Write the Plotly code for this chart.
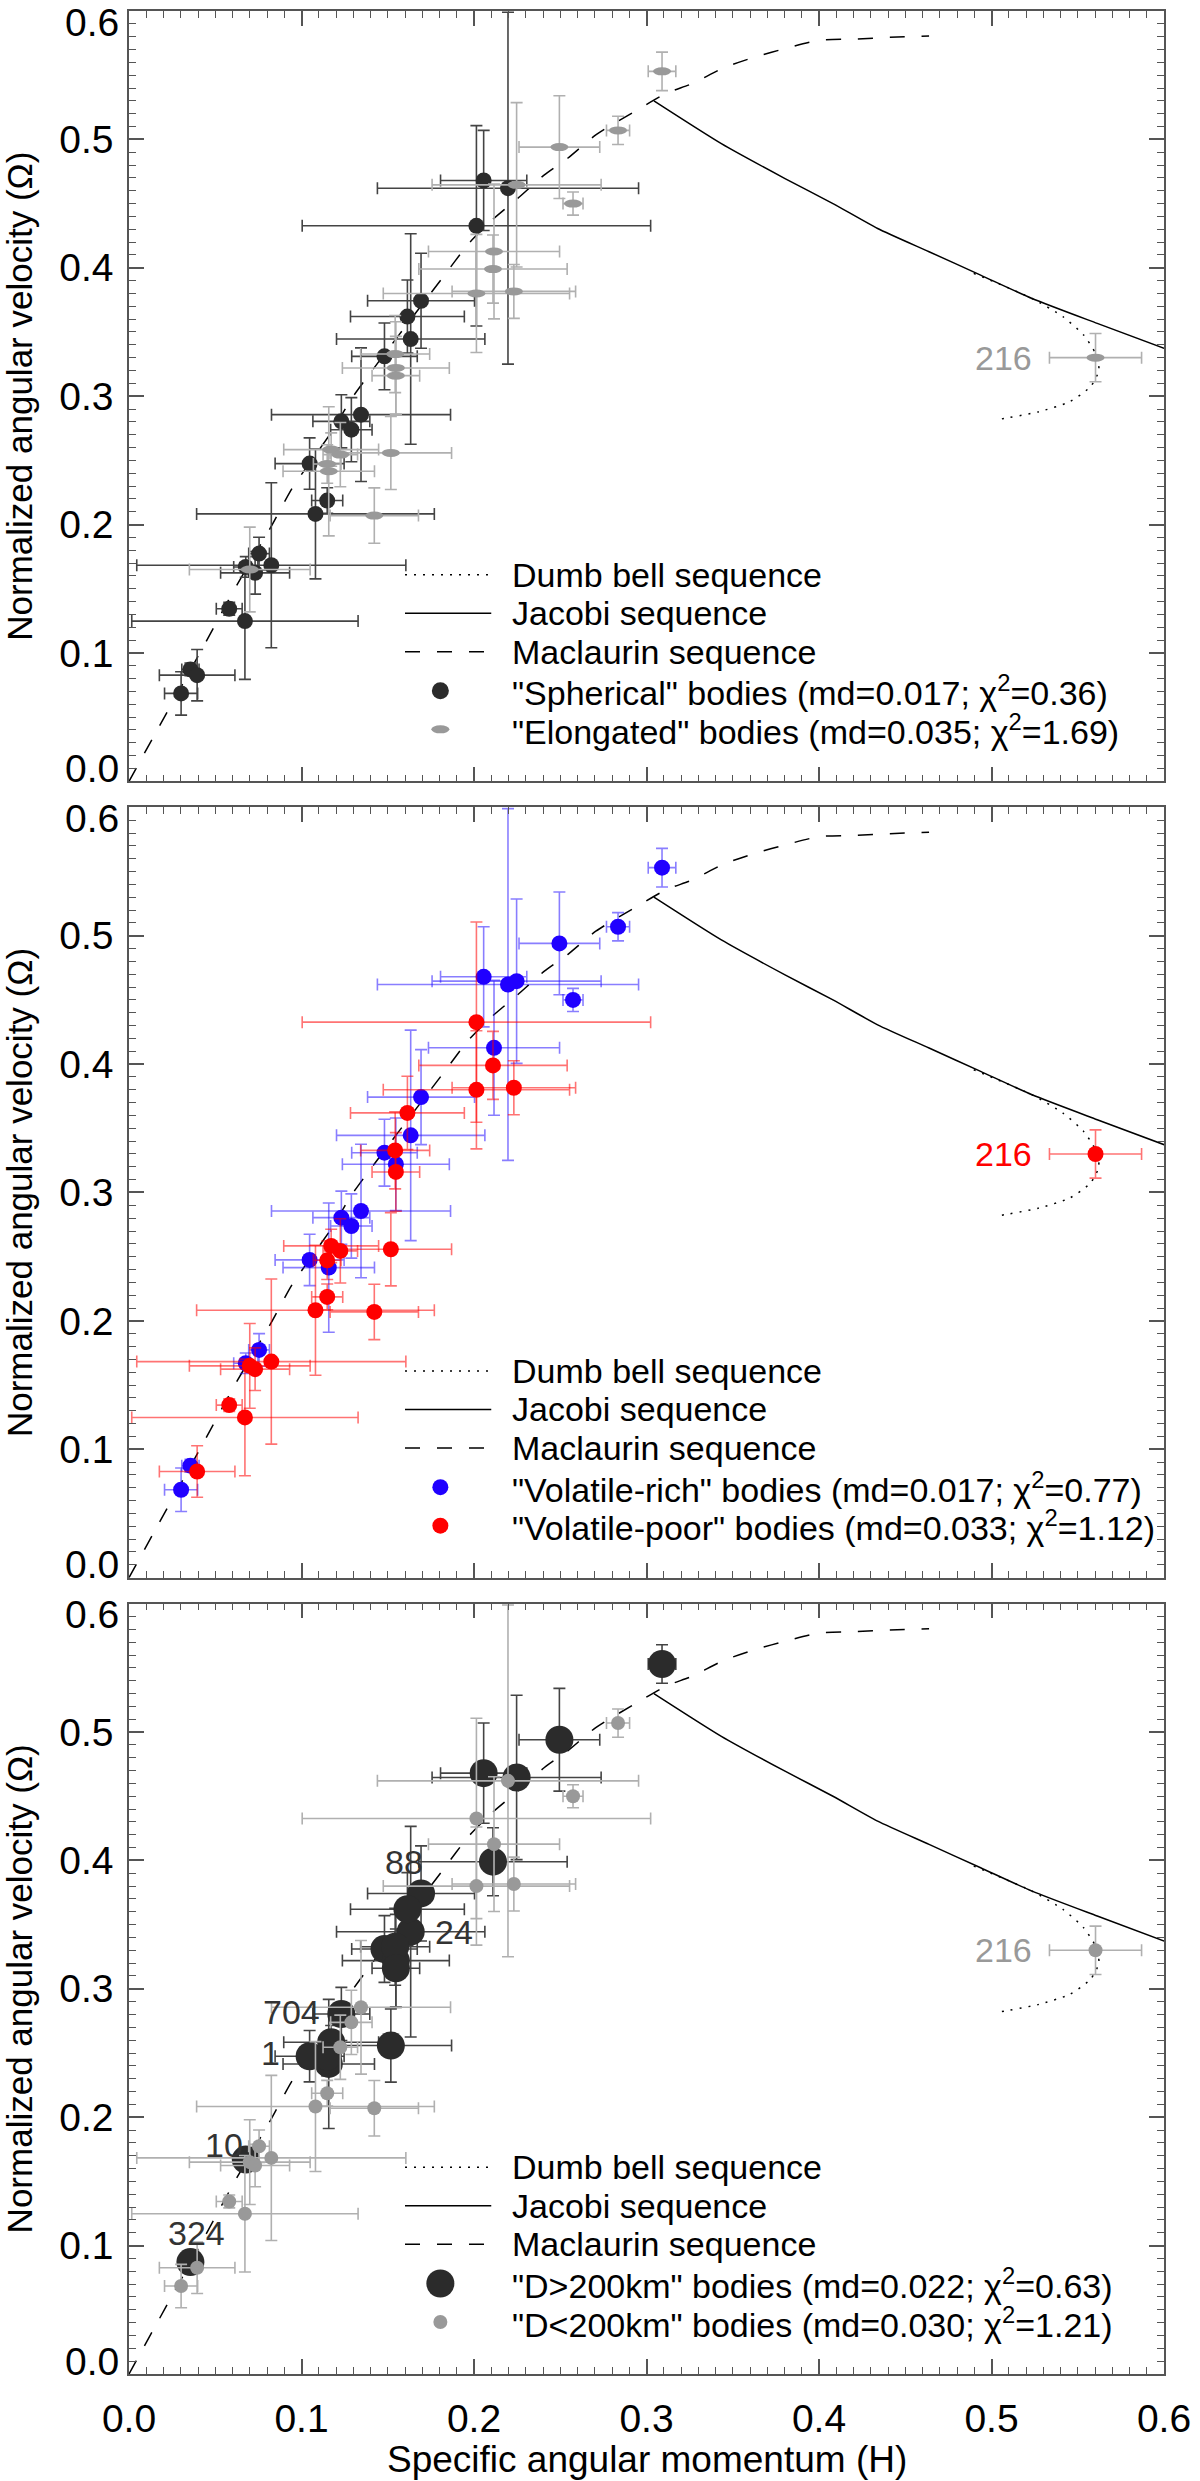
#### three-panel plot: normalized angular velocity vs specific angular momentum

import plotly.graph_objects as go
from plotly.subplots import make_subplots

# ---- data ---------------------------------------------------------------
# one entry per body (same bodies in all three panels)
body_h = [0.309, 0.2835, 0.2495, 0.2574, 0.2056, 0.2197, 0.2247, 0.2116, 0.1693, 0.1633,
          0.1481, 0.1547, 0.2014, 0.211, 0.2014, 0.2231, 0.1614, 0.1543, 0.1547, 0.1345,
          0.1231, 0.1289, 0.1047, 0.1158, 0.1518, 0.1172, 0.1225, 0.1149, 0.1149, 0.1081,
          0.1422, 0.0754, 0.0677, 0.070, 0.0731, 0.0825, 0.0581, 0.0672, 0.0356, 0.0395,
          0.0302, 0.5603]
body_omega = [0.553, 0.507, 0.494, 0.450, 0.468, 0.462, 0.4646, 0.4127, 0.3743, 0.3445,
              0.331, 0.322, 0.4327, 0.399, 0.380, 0.3816, 0.362, 0.3328, 0.316, 0.2856,
              0.2804, 0.2739, 0.2475, 0.2415, 0.2558, 0.2584, 0.2545, 0.2472, 0.2187, 0.2083,
              0.207, 0.1774, 0.167, 0.165, 0.1624, 0.1683, 0.1344, 0.1248, 0.0872, 0.0827,
              0.0685, 0.330]
body_h_err = [0.008, 0.0067, 0.0234, 0.0058, 0.025, 0.0757, 0.049, 0.038, 0.031, 0.043,
              0.019, 0.031, 0.101, 0.043, 0.054, 0.0358, 0.033, 0.02, 0.0138, 0.0519,
              0.0165, 0.012, 0.02, 0.0265, 0.0352, 0.0275, 0.01, 0.008, 0.009, 0.0689,
              0.0256, 0.006, 0.007, 0.035, 0.02, 0.078, 0.0075, 0.0656, 0.005, 0.0219,
              0.0096, 0.0267]
body_omega_err = [0.015, 0.011, 0.040, 0.009, 0.039, 0.137, 0.064, 0.0525, 0.037, 0.082,
                  0.026, 0.036, 0.078, 0.0265, 0.046, 0.021, 0.0285, 0.03, 0.0306, 0.052,
                  0.0207, 0.025, 0.02, 0.0503, 0.0285, 0.013, 0.025, 0.015, 0.01, 0.0506,
                  0.0216, 0.0127, 0.008, 0.033, 0.0166, 0.0643, 0.005, 0.0454, 0.005, 0.02,
                  0.0169, 0.0188]

# classification used in each panel
shape_class = ['E', 'E', 'E', 'E', 'S', 'S', 'E', 'E', 'S', 'S',
               'S', 'E', 'S', 'E', 'E', 'E', 'S', 'E', 'E', 'S',
               'S', 'S', 'S', 'E', 'E', 'E', 'E', 'E', 'S', 'S',
               'E', 'S', 'S', 'E', 'S', 'S', 'S', 'S', 'S', 'S',
               'S', 'E']
volatile_class = ['rich'] * 12 + ['poor'] * 7 + ['rich'] * 5 + ['poor'] * 7 + \
                 ['rich', 'rich', 'poor', 'poor', 'poor', 'poor', 'poor', 'rich', 'poor', 'rich', 'poor']
size_class = ['big', 'small', 'big', 'small', 'big', 'small', 'big', 'small', 'big', 'big',
              'big', 'big', 'small', 'big', 'small', 'small', 'big', 'big', 'big', 'small',
              'big', 'small', 'big', 'big', 'big', 'big', 'small', 'big', 'small', 'small',
              'small', 'small', 'big', 'small', 'small', 'small', 'small', 'small', 'big', 'small',
              'small', 'small']

# named bodies (index into the lists above)
label_text = ['88', '24', '704', '1', '10', '324', '216']
label_body = [8, 9, 20, 22, 32, 38, 41]

# theoretical sequences
maclaurin_h = [0.0, 0.0139, 0.0427, 0.0616, 0.0822, 0.0947, 0.1177, 0.1293, 0.1831, 0.1966,
               0.21, 0.2255, 0.2408, 0.2543, 0.2706, 0.2947, 0.3116, 0.3265, 0.3444, 0.3629,
               0.3822, 0.40, 0.4215, 0.4409, 0.4638]
maclaurin_omega = [0.0, 0.034, 0.104, 0.1507, 0.198, 0.2286, 0.2726, 0.2986, 0.3946, 0.4184,
                   0.4366, 0.4542, 0.4724, 0.4853, 0.5035, 0.523, 0.536, 0.5434, 0.5556, 0.5642,
                   0.5714, 0.5772, 0.5782, 0.5795, 0.5805]
jacobi_h = [0.3043, 0.3434, 0.3803, 0.4081, 0.4340, 0.4638, 0.4937, 0.5235, 0.5613, 0.6001]
jacobi_omega = [0.530, 0.4967, 0.4695, 0.45, 0.4306, 0.4125, 0.3943, 0.3761, 0.3567, 0.3372]
dumbbell_h = [0.4897, 0.5235, 0.5414, 0.5534, 0.5603, 0.5623, 0.5574, 0.5454, 0.5275, 0.5026]
dumbbell_omega = [0.3956, 0.3761, 0.3619, 0.3476, 0.3333, 0.3204, 0.3074, 0.2957, 0.2879, 0.2815]

legend_texts = [
    ['"Spherical" bodies (md=0.017; χ<sup>2</sup>=0.36)',
     '"Elongated" bodies (md=0.035; χ<sup>2</sup>=1.69)'],
    ['"Volatile-rich" bodies (md=0.017; χ<sup>2</sup>=0.77)',
     '"Volatile-poor" bodies (md=0.033; χ<sup>2</sup>=1.12)'],
    ['"D&gt;200km" bodies (md=0.022; χ<sup>2</sup>=0.63)',
     '"D&lt;200km" bodies (md=0.030; χ<sup>2</sup>=1.21)'],
]
curve_names = ['Dumb bell sequence', 'Jacobi sequence', 'Maclaurin sequence']

# ---- styles ---------------------------------------------------------------
FONT = 'Liberation Sans, Arial, sans-serif'
FS_TICK = 39
FS_LEG = 34
FS_YT = 35
FS_XT = 37
FS_LAB = 34
DARK = '#2b2b2b'
DARK_ERR = '#444444'
GREY = '#999999'
GREY_ERR = '#b0b0b0'
BLUE = '#2000ff'
BLUE_ERR = 'rgba(40,20,255,0.55)'
RED = '#ff0000'
RED_ERR = 'rgba(255,0,0,0.55)'
AXIS = '#555555'
leg_rows = [0.161, 0.131, 0.101, 0.0705, 0.0405]   # legend row heights (data units)
leg_line = [0.160, 0.210]
leg_mark = 0.1805
leg_text_x = 0.221
label_shift = [(4, 31, 'right'), (22, 0, 'left'), (-19, 2, 'right'), (-28, 3, 'right'),
               (-1, 15, 'right'), (37, 29, 'right'), (-62, 0, 'right')]

fig = make_subplots(rows=3, cols=1, vertical_spacing=26 / 2365)


def subset(flags, value):
    idx = [i for i, f in enumerate(flags) if f == value]
    return ([body_h[i] for i in idx], [body_omega[i] for i in idx],
            [body_h_err[i] for i in idx], [body_omega_err[i] for i in idx])


def add_points(row, flags, value, color, err_color, size, opacity=1.0):
    x, y, ex, ey = subset(flags, value)
    fig.add_trace(go.Scatter(
        x=x, y=y, mode='markers', showlegend=False,
        marker=dict(color=color, size=size, opacity=opacity, line=dict(width=0)),
        error_x=dict(type='data', array=ex, color=err_color, thickness=1.6, width=6),
        error_y=dict(type='data', array=ey, color=err_color, thickness=1.6, width=6),
    ), row=row, col=1)
    return x, y


for row in (1, 2, 3):
    # theoretical curves
    fig.add_trace(go.Scatter(x=maclaurin_h, y=maclaurin_omega, mode='lines', showlegend=False,
                             line=dict(color='black', width=1.5, dash='15px,17px', shape='spline',
                                       smoothing=0.6)), row=row, col=1)
    fig.add_trace(go.Scatter(x=jacobi_h, y=jacobi_omega, mode='lines', showlegend=False,
                             line=dict(color='black', width=1.5, shape='spline', smoothing=0.6)),
                  row=row, col=1)
    fig.add_trace(go.Scatter(x=dumbbell_h, y=dumbbell_omega, mode='lines', showlegend=False,
                             line=dict(color='black', width=1.5, dash='2px,7px', shape='spline',
                                       smoothing=0.6)), row=row, col=1)

# panel 1: spherical / elongated
add_points(1, shape_class, 'S', DARK, DARK_ERR, 16)
ex_x, ex_y = add_points(1, shape_class, 'E', GREY, GREY_ERR, 4, opacity=0)
for h, w in zip(ex_x, ex_y):
    fig.add_shape(type='circle', xref='x', yref='y', xsizemode='pixel', ysizemode='pixel',
                  xanchor=h, yanchor=w, x0=-9, x1=9, y0=-4, y1=4,
                  fillcolor=GREY, line=dict(width=0), layer='above')

# panel 2: volatile-rich / volatile-poor
add_points(2, volatile_class, 'rich', BLUE, BLUE_ERR, 16)
add_points(2, volatile_class, 'poor', RED, RED_ERR, 16)

# panel 3: large / small bodies
add_points(3, size_class, 'big', DARK, DARK_ERR, 28)
add_points(3, size_class, 'small', GREY, GREY_ERR, 14)

# ---- legends (drawn inside each panel) -------------------------------------
dash_css = ['2px,7px', 'solid', '15px,17px']
marker_styles = [
    [(DARK, 8.5, 8.5), (GREY, 9, 4)],
    [(BLUE, 8, 8), (RED, 8, 8)],
    [(DARK, 14, 14), (GREY, 7, 7)],
]
for p in range(3):
    xr = 'x' if p == 0 else 'x%d' % (p + 1)
    yr = 'y' if p == 0 else 'y%d' % (p + 1)
    for k in range(3):
        fig.add_shape(type='line', xref=xr, yref=yr, x0=leg_line[0], x1=leg_line[1],
                      y0=leg_rows[k], y1=leg_rows[k],
                      line=dict(color='black', width=1.5, dash=dash_css[k]))
        fig.add_annotation(xref=xr, yref=yr, x=leg_text_x, y=leg_rows[k], text=curve_names[k],
                           xanchor='left', yanchor='middle', showarrow=False,
                           font=dict(family=FONT, size=FS_LEG, color='black'))
    for k in range(2):
        col, rx, ry = marker_styles[p][k]
        fig.add_shape(type='circle', xref=xr, yref=yr, xsizemode='pixel', ysizemode='pixel',
                      xanchor=leg_mark, yanchor=leg_rows[3 + k], x0=-rx, x1=rx, y0=-ry, y1=ry,
                      fillcolor=col, line=dict(width=0))
        fig.add_annotation(xref=xr, yref=yr, x=leg_text_x, y=leg_rows[3 + k],
                           text=legend_texts[p][k], xanchor='left', yanchor='middle',
                           showarrow=False, font=dict(family=FONT, size=FS_LEG, color='black'))

# ---- body labels -------------------------------------------------------------
for txt, b, (dx, dy, anc) in zip(label_text, label_body, label_shift):
    panels = [3] if txt != '216' else [1, 2, 3]
    for p in panels:
        xr = 'x' if p == 1 else 'x%d' % p
        yr = 'y' if p == 1 else 'y%d' % p
        col = '#333333'
        if txt == '216':
            col = RED if p == 2 else GREY
        fig.add_annotation(xref=xr, yref=yr, x=body_h[b], y=body_omega[b], text=txt,
                           xanchor=anc, yanchor='middle', xshift=dx, yshift=dy,
                           showarrow=False, font=dict(family=FONT, size=FS_LAB, color=col))

# ---- axes ----------------------------------------------------------------------
common = dict(range=[0, 0.6], showgrid=False, zeroline=False, showline=True, mirror='ticks',
              linecolor=AXIS, linewidth=1.5, ticks='inside', ticklen=15, tickwidth=1.5,
              tickcolor=AXIS, tickfont=dict(family=FONT, size=FS_TICK, color='black'),
              minor=dict(ticks='inside', ticklen=7, tickwidth=1.2, tickcolor=AXIS,
                         tickmode='linear', tick0=0, dtick=0.01))
for row in (1, 2, 3):
    fig.update_xaxes(common, tickmode='linear', tick0=0, dtick=0.1, tickformat='.1f',
                     showticklabels=(row == 3), ticklabelstandoff=9, row=row, col=1)
    fig.update_yaxes(common, tickmode='array', tickvals=[0.1, 0.2, 0.3, 0.4, 0.5],
                     ticktext=['0.1', '0.2', '0.3', '0.4', '0.5'], ticklabelstandoff=6,
                     title=dict(text='Normalized angular velocity (Ω)', standoff=20,
                                font=dict(family=FONT, size=FS_YT, color='black')),
                     row=row, col=1)
    xr = 'x' if row == 1 else 'x%d' % row
    yr = 'y' if row == 1 else 'y%d' % row
    fig.add_annotation(xref=xr + ' domain', yref=yr, x=0, y=0.6, text='0.6', xanchor='right',
                       yanchor='middle', xshift=-8, yshift=-11, showarrow=False,
                       font=dict(family=FONT, size=FS_TICK, color='black'))
    fig.add_annotation(xref=xr + ' domain', yref=yr, x=0, y=0.0, text='0.0', xanchor='right',
                       yanchor='middle', xshift=-8, yshift=13, showarrow=False,
                       font=dict(family=FONT, size=FS_TICK, color='black'))

# x axis title of the bottom panel
fig.add_annotation(xref='x3 domain', yref='y3 domain', x=0.5, y=0,
                   text='Specific angular momentum (H)', xanchor='center', yanchor='middle',
                   yshift=-85, showarrow=False,
                   font=dict(family=FONT, size=FS_XT, color='black'))

fig.update_layout(
    width=1200, height=2481,
    margin=dict(l=129, r=31, t=9, b=107),
    plot_bgcolor='white', paper_bgcolor='white',
    font=dict(family=FONT, size=FS_TICK, color='black'),
    showlegend=False,
)

# drop the default page margin so the figure sits at the window's top-left corner
fig.write_html("out.html", config={'displayModeBar': False},
               post_script="document.body.style.margin='0';document.body.style.padding='0';")
